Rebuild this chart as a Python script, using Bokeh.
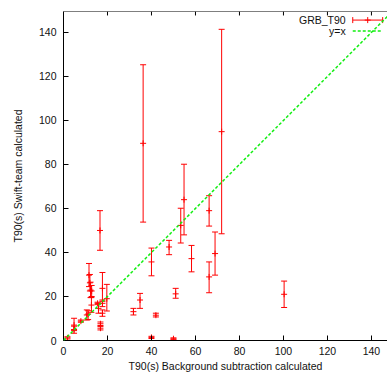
import numpy as np
from bokeh.plotting import figure
from bokeh.models import Range1d, FixedTicker, ColumnDataSource, Label, Slope, Span
from bokeh.embed import file_html
from bokeh.resources import INLINE

# ---- data ----
t90_background = [1.8, 4.8, 4.8, 7.9, 10.6, 11.2, 11.6, 12.0, 12.3, 12.8, 12.7,
                  15.5, 15.9, 16.8, 16.8, 16.6, 17.7, 17.7, 17.7, 19.7, 31.8,
                  34.8, 36.2, 40.0, 40.0, 42.0, 48.0, 50.0, 51.0, 53.3, 54.8,
                  58.2, 66.2, 66.2, 68.9, 71.9, 100.3]
t90_swift = [1.2, 7.0, 5.0, 8.8, 11.6, 12.0, 29.7, 26.2, 22.9, 22.5, 16.1,
             16.9, 14.6, 7.6, 5.6, 50.0, 23.7, 16.9, 12.4, 19.0, 13.1,
             18.4, 89.6, 35.7, 1.4, 11.5, 42.5, 0.8, 21.2, 52.3, 64.0,
             37.2, 59.0, 28.9, 39.5, 94.9, 21.0]
t90_swift_low = [0.7, 4.5, 3.3, 8.3, 9.3, 9.5, 24.5, 22.5, 19.5, 20.0, 12.8,
                 16.3, 12.4, 6.8, 4.8, 41.0, 17.8, 15.4, 11.0, 13.4, 11.6,
                 14.6, 53.8, 29.4, 0.9, 10.7, 39.0, 0.4, 19.2, 44.3, 48.0,
                 31.2, 52.0, 21.7, 29.7, 48.5, 15.0]
t90_swift_high = [1.7, 10.1, 6.5, 9.3, 13.9, 13.5, 35.0, 30.0, 26.5, 25.0, 19.5,
                  17.4, 16.9, 8.4, 6.4, 59.0, 30.9, 18.4, 13.9, 25.5, 14.6,
                  21.4, 125.3, 42.0, 1.9, 12.4, 45.5, 1.2, 23.7, 60.1, 80.1,
                  43.2, 65.8, 35.7, 49.3, 141.4, 27.0]

x_ticks = [0, 20, 40, 60, 80, 100, 120, 140]
y_ticks = [0, 20, 40, 60, 80, 100, 120, 140]
series_name = "GRB_T90"
line_name = "y=x"

RED = "#ff0000"
GREEN = "#11ee11"
FONT = "Liberation Sans"
TXT = "#111111"

X_MAX, Y_MAX = 147.3, 149.5

src = ColumnDataSource(data=dict(x=t90_background, y=t90_swift,
                                 lo=t90_swift_low, hi=t90_swift_high))

p = figure(width=387, height=374, output_backend="svg", toolbar_location=None,
           x_range=Range1d(0, X_MAX), y_range=Range1d(0, Y_MAX),
           min_border_left=63, min_border_right=0, min_border_top=11,
           min_border_bottom=32,
           x_axis_label="T90(s) Background subtraction calculated",
           y_axis_label="T90(s) Swift-team calculated")
p.grid.visible = False
p.outline_line_color = None

bottom_axis = p.below[0]
left_axis = p.left[0]
bottom_axis.ticker = FixedTicker(ticks=x_ticks)
left_axis.ticker = FixedTicker(ticks=y_ticks)

for ax in [bottom_axis, left_axis]:
    ax.axis_line_color = "black"
    ax.axis_line_width = 1
    ax.major_tick_line_color = "black"
    ax.major_tick_in = 5
    ax.major_tick_out = 0
    ax.minor_tick_line_color = None
    ax.major_label_text_font = FONT
    ax.major_label_text_font_size = "10.5px"
    ax.major_label_text_color = TXT
    ax.axis_label_text_font = FONT
    ax.axis_label_text_font_size = "10.5px"
    ax.axis_label_text_font_style = "normal"
    ax.axis_label_text_color = TXT

left_axis.major_label_standoff = 7
left_axis.axis_label_standoff = 12
bottom_axis.major_label_standoff = 6
bottom_axis.axis_label_standoff = 2

# top border with mirrored inward ticks
p.add_layout(Span(location=Y_MAX, dimension="width", line_color="black", line_width=1))
tick_len = 4 * Y_MAX / 331.0
p.segment(x0=x_ticks, y0=[Y_MAX] * len(x_ticks), x1=x_ticks,
          y1=[Y_MAX - tick_len] * len(x_ticks), line_color="black", line_width=1)

# y = x line
p.add_layout(Slope(gradient=1, y_intercept=0, line_color=GREEN,
                   line_width=1.5, line_dash="3 2"))

# error bars
p.segment(x0="x", y0="lo", x1="x", y1="hi", source=src, line_color=RED, line_width=1)
p.scatter(x="x", y="lo", source=src, marker="dash", size=6, line_color=RED, line_width=1)
p.scatter(x="x", y="hi", source=src, marker="dash", size=6, line_color=RED, line_width=1)
p.scatter(x="x", y="y", source=src, marker="cross", size=6, line_color=RED, line_width=1)

# key (top right)
kx_text, ky1, ky2 = 128.3, 145.6, 140.6
kx0, kx1 = 131.5, 145.1
p.add_layout(Label(x=kx_text, y=ky1, text=series_name, text_align="right",
                   text_baseline="middle", text_font=FONT, text_font_size="10.5px",
                   text_color=TXT))
p.add_layout(Label(x=kx_text, y=ky2, text=line_name, text_align="right",
                   text_baseline="middle", text_font=FONT, text_font_size="10.5px",
                   text_color=TXT))
p.segment(x0=[kx0], y0=[ky1], x1=[kx1], y1=[ky1], line_color=RED, line_width=1)
p.scatter(x=[kx0, kx1], y=[ky1, ky1], marker="dash", angle=np.pi / 2, size=6,
          line_color=RED, line_width=1)
p.scatter(x=[(kx0 + kx1) / 2], y=[ky1], marker="cross", size=6, line_color=RED, line_width=1)
p.segment(x0=[kx0], y0=[ky2], x1=[kx1], y1=[ky2], line_color=GREEN, line_width=1.5,
          line_dash="3 2")

open("out.html", "w").write(file_html(p, INLINE))
